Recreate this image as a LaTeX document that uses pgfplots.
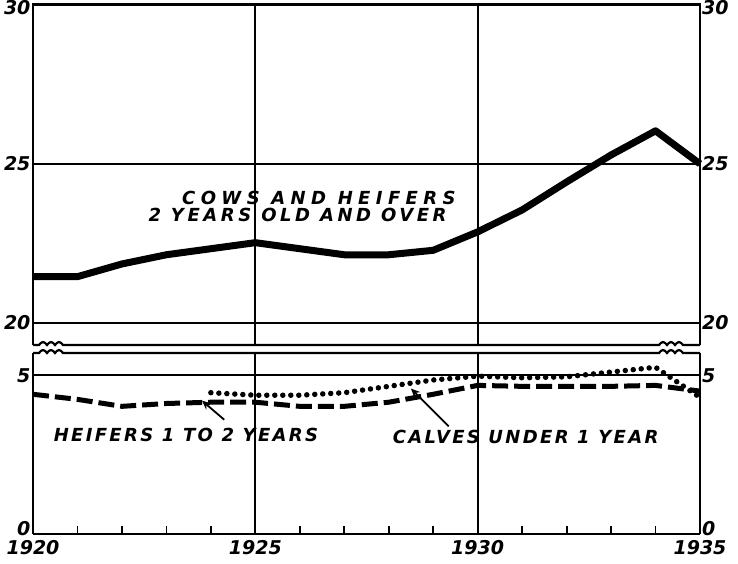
\documentclass[border=0pt]{standalone}
\usepackage{fontspec}
\setmainfont{DejaVu Sans}
\usepackage{pgfplots}
\pgfplotsset{compat=1.18}
\usetikzlibrary{arrows.meta}
\newcommand\lab{\fontsize{19}{20}\selectfont\bfseries\itshape}
\newcommand\annot[1]{\fontsize{18}{19}\selectfont\bfseries\itshape\addfontfeatures{LetterSpace=#1}}
\pgfplotsset{common/.style={
  scale only axis, width=667pt, xmin=1920, xmax=1935,
  axis line style={draw=none},
  xmajorgrids, ymajorgrids,
  major grid style={black, line width=2.2pt},
  major tick length=0pt,
  ticklabel style={font=\lab},
  /pgf/number format/assume math mode=true,
  clip=false,
  xtick={1920,1925,1930,1935},
}}
\begin{document}
\begin{tikzpicture}[x=1pt,y=1pt]
\path[use as bounding box] (-33,-30) rectangle (705,534);
% lower panel
\begin{axis}[common, at={(0pt,0pt)}, anchor=south west, height=181pt,
  ymin=0, ymax=5.7,
  xticklabels={1920,1925,1930,1935},
  ytick={5}, yticklabels={5},
  extra y ticks={0}, extra y tick labels={0},
  extra y tick style={yticklabel style={yshift=5pt}},
  minor xtick={1921,1922,1923,1924,1926,1927,1928,1929,1931,1932,1933,1934},
  xtick pos=bottom, ytick pos=left, tick align=inside,
  minor tick length=8pt, minor tick style={black, line width=1.8pt},
  xticklabel style={yshift=-3pt},
  yticklabel style={xshift=1pt}]
\addplot[black, line width=5pt, dash pattern=on 16pt off 6pt] coordinates {
(1920,4.40) (1921,4.24) (1922,4.02) (1923,4.11) (1924,4.15) (1925,4.15)
(1926,4.02) (1927,4.02) (1928,4.15) (1929,4.40) (1930,4.68) (1931,4.65)
(1932,4.65) (1933,4.65) (1934,4.68) (1935,4.50)};
\addplot[black, line width=5.5pt, line cap=round, dash pattern=on 0pt off 8pt] coordinates {
(1924,4.45) (1925,4.37) (1926,4.37) (1927,4.45) (1928,4.65) (1929,4.85)
(1930,4.97) (1931,4.92) (1932,4.95) (1933,5.10) (1934,5.25) (1935,4.30)};
\node[font=\annot{13}] at (axis cs:1923.44,3.13) {HEIFERS 1 TO 2 YEARS};
\node[font=\annot{13}] at (axis cs:1931.08,3.07) {CALVES UNDER 1 YEAR};
\draw[-{Stealth[length=9pt,width=8pt]}, line width=1.8pt] (axis cs:1924.3,3.6) -- (axis cs:1923.8,4.2);
\draw[-{Stealth[length=9pt,width=8pt]}, line width=1.8pt] (axis cs:1929.35,3.39) -- (axis cs:1928.5,4.58);
\node[font=\lab, anchor=west, inner sep=2pt] at (axis cs:1935,5) {5};
\node[font=\lab, anchor=west, inner sep=2pt, yshift=5pt] at (axis cs:1935,0) {0};
\end{axis}
% upper panel
\begin{axis}[common, at={(0pt,189pt)}, anchor=south west, height=340pt,
  ymin=19.3, ymax=30,
  xticklabels={},
  ytick={20,25}, yticklabels={20,25},
  extra y ticks={30}, extra y tick labels={30},
  extra y tick style={yticklabel style={yshift=-3pt}},
  yticklabel style={xshift=1pt}]
\addplot[black, line width=7pt, line join=round] coordinates {
(1920,21.45) (1921,21.45) (1922,21.85) (1923,22.14) (1924,22.33) (1925,22.52)
(1926,22.33) (1927,22.14) (1928,22.14) (1929,22.28) (1930,22.86) (1931,23.55)
(1932,24.43) (1933,25.28) (1934,26.04) (1935,25.00)};
\node[font=\annot{30}] at (axis cs:1926.43,23.93) {COWS AND HEIFERS};
\node[font=\annot{20}] at (axis cs:1925.95,23.40) {2 YEARS OLD AND OVER};
\node[font=\lab, anchor=west, inner sep=2pt, yshift=-3pt] at (axis cs:1935,30) {30};
\node[font=\lab, anchor=west, inner sep=2pt] at (axis cs:1935,25) {25};
\node[font=\lab, anchor=west, inner sep=2pt] at (axis cs:1935,20) {20};
\end{axis}
% borders with break wiggles
\draw[line width=3pt] (-1,529) -- (668,529);
\draw[line width=2.2pt] (0,189) -- (6,189) sin ++(4,3) cos ++(4,-3) sin ++(4,3) cos ++(4,-3) sin ++(4,3) cos ++(4,-3) -- (626,189)
  sin ++(4,3) cos ++(4,-3) sin ++(4,3) cos ++(4,-3) sin ++(4,3) cos ++(4,-3) -- (667,189);
\draw[line width=2.2pt] (0,181) -- (6,181) sin ++(4,3) cos ++(4,-3) sin ++(4,3) cos ++(4,-3) sin ++(4,3) cos ++(4,-3) -- (626,181)
  sin ++(4,3) cos ++(4,-3) sin ++(4,3) cos ++(4,-3) sin ++(4,3) cos ++(4,-3) -- (667,181);
\end{tikzpicture}
\end{document}
